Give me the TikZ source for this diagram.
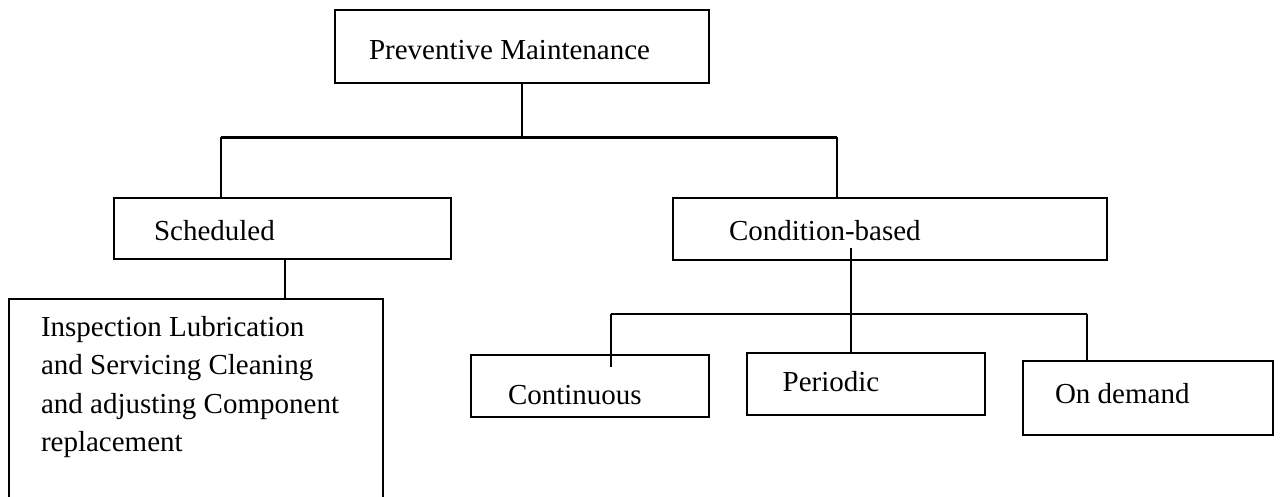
\documentclass[tikz,border=0pt]{standalone}
\usepackage{fontspec}
\setmainfont{Liberation Serif}
\begin{document}
\begin{tikzpicture}[x=1pt,y=-1pt,
  box/.style={draw=black,line width=2.4pt,rectangle,inner sep=0pt,outer sep=0pt,fill=none},
  lbl/.style={inner sep=0pt,outer sep=0pt,anchor=base west,font=\fontsize{29}{38.6}\selectfont},
  conn/.style={draw=black,line width=2.4pt}]
\useasboundingbox (0,0) rectangle (1280,496);
\fill[white] (0,0) rectangle (1280,496);
\clip (0,0) rectangle (1280,496);
% boxes
\node[box,minimum width=374pt,minimum height=73pt] (top) at (522,46.5) {};
\node[box,minimum width=337pt,minimum height=61pt] (sched) at (282.5,228.5) {};
\node[box,minimum width=434pt,minimum height=62pt] (cond) at (890,229) {};
\node[box,minimum width=374pt,minimum height=222pt] (insp) at (196,410) {};
\node[box,minimum width=238.3pt,minimum height=62pt] (cont) at (589.85,386) {};
\node[box,minimum width=238pt,minimum height=62pt] (per) at (865.7,384) {};
\node[box,minimum width=250.3pt,minimum height=74.3pt] (ond) at (1147.85,397.85) {};
% labels
\node[lbl] (tTop) at (369,59.3) {Preventive Maintenance};
\node[lbl] (tSched) at (154,240.7) {Scheduled};
\node[lbl] (tCond) at (729,240.7) {Condition-based};
\node[lbl] (tI1) at (41,336) {Inspection Lubrication};
\node[lbl] (tI2) at (41,374.5) {and Servicing Cleaning};
\node[lbl] (tI3) at (41,413.2) {and adjusting Component};
\node[lbl] (tI4) at (41,451.7) {replacement};
\node[lbl] (tCont) at (508,404) {Continuous};
\node[lbl] (tPer) at (782.7,391.7) {Periodic};
\node[lbl] (tOnd) at (1055,403) {On demand};
% junction coordinates
\coordinate (hL) at (220.7,137.3);
\coordinate (hR) at (837,137.3);
\coordinate (sI) at (285,0);
\coordinate (cV) at (850.8,248);
\coordinate (h2L) at (611,313.7);
\coordinate (h2R) at (1087,313.7);
\coordinate (cE) at (611,366.7);
% connectors
\draw[conn] (top.south) -- (top.south |- hL);
\draw[conn] (hL) -- (hR);
\draw[conn] (hL) -- (hL |- sched.north);
\draw[conn] (hR) -- (hR |- cond.north);
\draw[conn] (sI |- sched.south) -- (sI |- insp.north);
\draw[conn] (cV) -- (cV |- per.north);
\draw[conn] (h2L) -- (h2R);
\draw[conn] (h2L) -- (cE);
\draw[conn] (h2R) -- (h2R |- ond.north);
\end{tikzpicture}
\end{document}
